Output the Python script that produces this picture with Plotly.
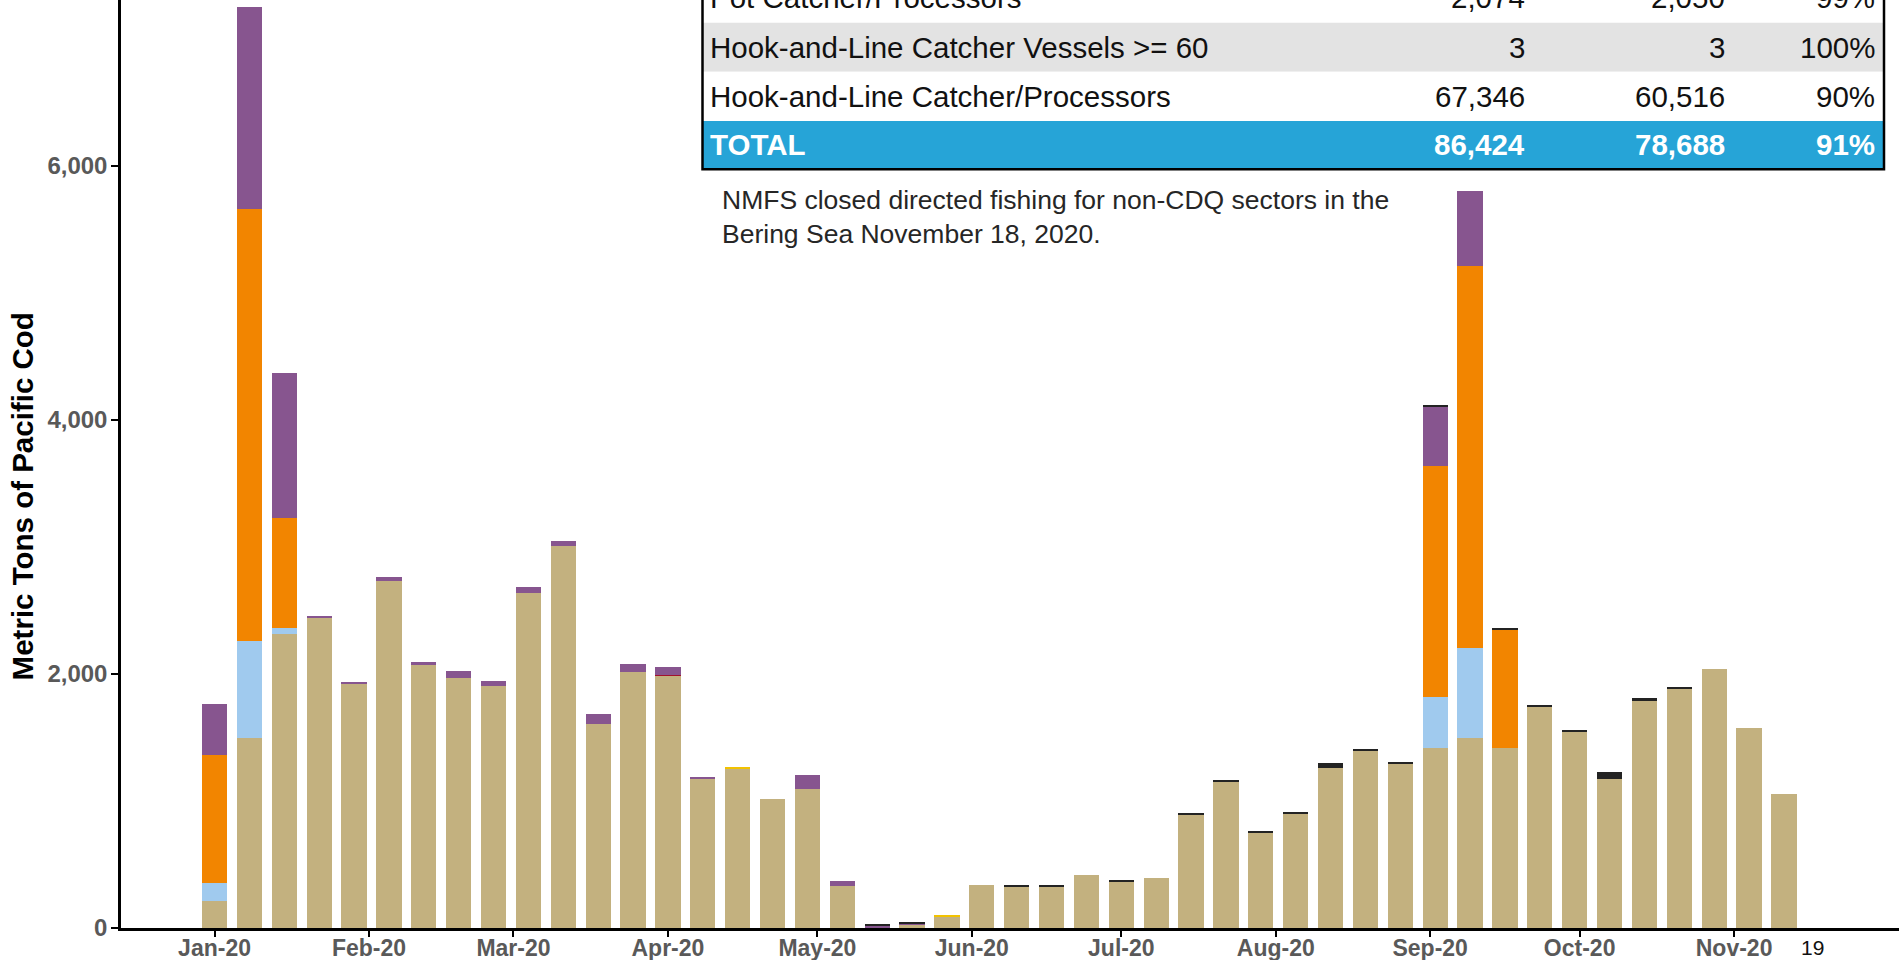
import plotly.graph_objects as go

# ---------------- data ----------------
week_dates = [
    "2020-01-01", "2020-01-08", "2020-01-15", "2020-01-22", "2020-01-29",
    "2020-02-05", "2020-02-12", "2020-02-19", "2020-02-26",
    "2020-03-04", "2020-03-11", "2020-03-18", "2020-03-25",
    "2020-04-01", "2020-04-08", "2020-04-15", "2020-04-22", "2020-04-29",
    "2020-05-06", "2020-05-13", "2020-05-20", "2020-05-27",
    "2020-06-03", "2020-06-10", "2020-06-17", "2020-06-24",
    "2020-07-01", "2020-07-08", "2020-07-15", "2020-07-22", "2020-07-29",
    "2020-08-05", "2020-08-12", "2020-08-19", "2020-08-26",
    "2020-09-02", "2020-09-09", "2020-09-16", "2020-09-23", "2020-09-30",
    "2020-10-07", "2020-10-14", "2020-10-21", "2020-10-28",
    "2020-11-04", "2020-11-11",
]

hal_cp = [212, 1498, 2317, 2437, 1917, 2733, 2066, 1970, 1905, 2640,
          3010, 1609, 2011, 1984, 1174, 1253, 1017, 1096, 331, 5,
          25, 87, 338, 323, 323, 416, 364, 393, 895, 1154,
          752, 900, 1256, 1400, 1294, 1413, 1494, 1413, 1746, 1539,
          1169, 1783, 1885, 2035, 1572, 1053]
trawl = [0, 0, 0, 0, 0, 0, 0, 0, 0, 0,
         0, 0, 0, 8, 0, 0, 0, 0, 0, 0,
         0, 0, 0, 0, 0, 0, 0, 0, 0, 0,
         0, 0, 0, 0, 0, 0, 0, 0, 0, 0,
         0, 0, 0, 0, 0, 0]
jig = [0, 0, 0, 0, 0, 0, 0, 0, 0, 0,
       0, 0, 0, 0, 0, 9, 0, 0, 0, 0,
       0, 11, 0, 0, 0, 0, 0, 0, 0, 0,
       0, 0, 0, 0, 0, 0, 0, 0, 0, 0,
       0, 0, 0, 0, 0, 0]
pot_cp = [143, 763, 46, 0, 0, 0, 0, 0, 0, 0,
          0, 0, 0, 0, 0, 0, 0, 0, 0, 0,
          0, 0, 0, 0, 0, 0, 0, 0, 0, 0,
          0, 0, 0, 0, 0, 403, 708, 0, 0, 0,
          0, 0, 0, 0, 0, 0]
pot_cv_60 = [1009, 3395, 866, 0, 0, 0, 0, 0, 0, 0,
             0, 0, 0, 0, 0, 0, 0, 0, 0, 0,
             0, 0, 0, 0, 0, 0, 0, 0, 0, 0,
             0, 0, 0, 0, 0, 1817, 3004, 933, 0, 0,
             0, 0, 0, 0, 0, 0]
cv_under_60 = [402, 1592, 1137, 17, 21, 32, 29, 55, 41, 47,
               38, 78, 70, 65, 14, 0, 0, 111, 39, 15,
               8, 0, 0, 0, 0, 0, 0, 0, 0, 0,
               0, 0, 0, 0, 0, 471, 594, 0, 0, 0,
               0, 0, 0, 0, 0, 0]
hal_cv_under_60 = [0, 0, 0, 0, 0, 0, 0, 0, 0, 0,
                   0, 0, 0, 0, 0, 0, 0, 0, 0, 6,
                   7, 0, 0, 8, 8, 0, 6, 0, 5, 8,
                   8, 9, 46, 12, 14, 9, 0, 8, 8, 16,
                   57, 25, 8, 0, 0, 0]

month_ticks = ["2020-01-01", "2020-02-01", "2020-03-01", "2020-04-01",
               "2020-05-01", "2020-06-01", "2020-07-01", "2020-08-01",
               "2020-09-01", "2020-10-01", "2020-11-01"]
y_ticks = [0, 2000, 4000, 6000]

table_labels = ["Pot Catcher/Processors", "Hook-and-Line Catcher Vessels >= 60",
                "Hook-and-Line Catcher/Processors", "TOTAL"]
table_col2 = [2074, 3, 67346, 86424]
table_col3 = [2050, 3, 60516, 78688]
table_pct = [99, 100, 90, 91]

note_text = ("NMFS closed directed fishing for non-CDQ sectors in the<br>"
             "Bering Sea November 18, 2020.")
y_title = "Metric Tons of Pacific Cod"
page_number = "19"

# ---------------- figure ----------------
series = [
    ("Hook-and-Line Catcher/Processors", hal_cp, "#C3B17F"),
    ("Trawl", trawl, "#A3122E"),
    ("Jig", jig, "#F2C200"),
    ("Pot Catcher/Processors", pot_cp, "#A0CAEE"),
    ("Pot Catcher Vessels >= 60", pot_cv_60, "#F28500"),
    ("Catcher Vessels < 60", cv_under_60, "#87558F"),
    ("Hook-and-Line Catcher Vessels < 60", hal_cv_under_60, "#232323"),
]

BAR_W = 5.08 * 86400000  # ms

fig = go.Figure()
for name, vals, col in series:
    fig.add_trace(go.Bar(x=week_dates, y=vals, name=name, width=BAR_W,
                         marker=dict(color=col, line=dict(width=0))))

W_FIG, H_FIG = 1899, 960
L, R, T, B = 121, 0, 0, 32
PW, PH = W_FIG - L - R, H_FIG - T - B


def px(x):
    return (x - L) / PW


def py(y):
    return (PH + T - y) / PH


x_tick_font = dict(family="Liberation Sans, Arial", size=23, color="#595959", weight="bold")
y_tick_font = dict(family="Liberation Sans, Arial", size=24, color="#595959", weight="bold")

fig.update_layout(
    width=W_FIG, height=H_FIG,
    margin=dict(l=L, r=R, t=T, b=B, autoexpand=False),
    barmode="stack",
    showlegend=False,
    plot_bgcolor="white", paper_bgcolor="white",
    xaxis=dict(type="date", range=["2019-12-13 05:17", "2020-12-04 02:24"],
               tickvals=month_ticks, tickformat="%b-%y", automargin=False,
               showline=True, linecolor="black", linewidth=2.5,
               ticks="outside", ticklen=6, tickwidth=2, tickcolor="black",
               tickfont=x_tick_font, showgrid=False, zeroline=False,
               ticklabelstandoff=-8),
    yaxis=dict(range=[0, 7303], tickvals=y_ticks, tickformat=",", automargin=False,
               showline=True, linecolor="black", linewidth=2.5,
               ticks="outside", ticklen=7, tickwidth=2, tickcolor="black",
               tickfont=y_tick_font, showgrid=False, zeroline=False,
               ticklabelstandoff=-1),
)

# ---- table (rows drawn as shapes) ----
row_edges = [-27, 22.7, 71.7, 121, 168.3]
row_fills = ["white", "#E3E3E3", "white", "#26A4D7"]
tx0, tx1 = 702.5, 1884
for i in range(4):
    fig.add_shape(type="rect", xref="paper", yref="paper",
                  x0=px(tx0), x1=px(tx1), y0=py(row_edges[i + 1]), y1=py(row_edges[i]),
                  fillcolor=row_fills[i], line=dict(width=0), layer="above")
fig.add_shape(type="rect", xref="paper", yref="paper",
              x0=px(tx0), x1=px(tx1), y0=py(row_edges[-1] + 1), y1=py(row_edges[0]),
              fillcolor="rgba(0,0,0,0)", line=dict(color="black", width=2.5), layer="above")

col_right = [1527, 1727, 1877]
for i in range(4):
    yc = (row_edges[i] + row_edges[i + 1]) / 2
    is_total = i == 3
    f = dict(family="Liberation Sans, Arial", size=29.5,
             color="white" if is_total else "#111111",
             weight="bold" if is_total else "normal")
    cells = [f"{table_col2[i]:,}", f"{table_col3[i]:,}", f"{table_pct[i]}%"]
    fig.add_annotation(xref="paper", yref="paper", x=px(708), y=py(yc),
                       text=table_labels[i], showarrow=False,
                       xanchor="left", yanchor="middle", font=f)
    for xr, c in zip(col_right, cells):
        fig.add_annotation(xref="paper", yref="paper", x=px(xr), y=py(yc),
                           text=c, showarrow=False,
                           xanchor="right", yanchor="middle", font=f)

# ---- note ----
fig.add_annotation(xref="paper", yref="paper", x=px(720), y=py(217),
                   text=note_text, showarrow=False, align="left",
                   xanchor="left", yanchor="middle",
                   font=dict(family="Liberation Sans, Arial", size=26.5, color="#262626"))

# ---- y title ----
fig.add_annotation(xref="paper", yref="paper", x=px(22.4), y=py(496),
                   text=y_title, showarrow=False, textangle=-90,
                   xanchor="center", yanchor="middle",
                   font=dict(family="Liberation Sans, Arial", size=29.5, color="black",
                             weight="bold"))

# ---- page number ----
fig.add_annotation(xref="paper", yref="paper", x=px(1812.5), y=py(947),
                   text=page_number, showarrow=False,
                   xanchor="center", yanchor="middle",
                   font=dict(family="Liberation Sans, Arial", size=21, color="#111111"))

fig.write_html("out.html", config={"displayModeBar": False},
               post_script="document.body.style.margin='0';document.body.style.overflow='hidden';")
